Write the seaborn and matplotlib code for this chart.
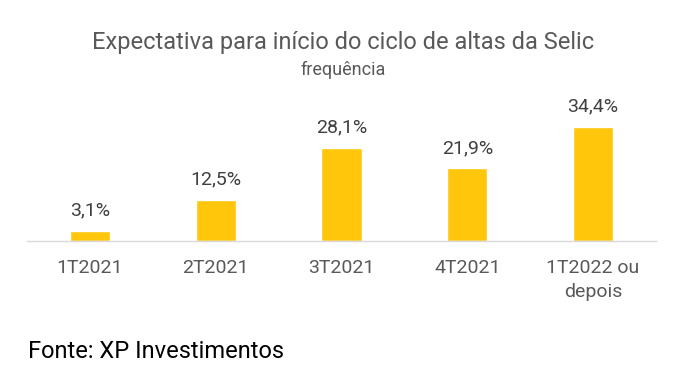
import matplotlib
matplotlib.use("Agg")
import matplotlib.pyplot as plt
import seaborn as sns
import pandas as pd

categories = ["1T2021", "2T2021", "3T2021", "4T2021", "1T2022 ou\ndepois"]
values = [3.1, 12.5, 28.1, 21.9, 34.4]
value_labels = ["3,1%", "12,5%", "28,1%", "21,9%", "34,4%"]

sns.set_theme(style="white")
plt.rcParams['font.family'] = ['Roboto', 'DejaVu Sans']

df = pd.DataFrame({"cat": categories, "val": values})

fig = plt.figure(figsize=(6.88, 3.74), dpi=100)
ax = fig.add_axes([27/688, (374-241)/374, (656-27)/688, (241-108.4)/374])
sns.barplot(data=df, x="cat", y="val", color="#FFC60B", width=0.32, ax=ax, saturation=1)
ax.set_xlim(-0.5, 4.5)
ax.set_ylim(0, 40)
for i, (v, lab) in enumerate(zip(values, value_labels)):
    ax.annotate(lab, (i, v), xytext=(0, 8), textcoords="offset points",
                ha="center", va="bottom", fontsize=14, color="#404040")
ax.set_xlabel("")
ax.set_ylabel("")
ax.set_yticks([])
ax.tick_params(axis="x", length=0, pad=13, labelsize=14, labelcolor="#595959")
for t in ax.get_xticklabels():
    t.set_linespacing(1.45)
for s in ["top", "left", "right"]:
    ax.spines[s].set_visible(False)
ax.spines["bottom"].set_color("#D9D9D9")
ax.spines["bottom"].set_linewidth(1)

fig.text(343/688, 1 - 42/374, "Expectativa para início do ciclo de altas da Selic",
         ha="center", va="center", fontsize=17, color="#595959")
fig.text(343/688, 1 - 70/374, "frequência", ha="center", va="center",
         fontsize=13, color="#595959")
fig.text(28/688, 1 - 352/374, "Fonte: XP Investimentos", ha="left", va="center",
         fontsize=17, color="#000000")

fig.savefig("out.png", dpi=100)
